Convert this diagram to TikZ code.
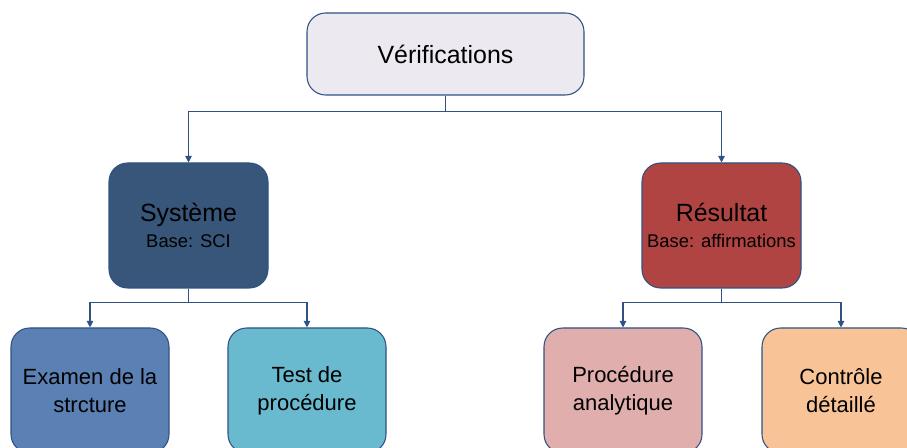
\documentclass[tikz,border=0pt]{standalone}
\usepackage{fontspec}
\setmainfont{Liberation Sans}
\usetikzlibrary{arrows.meta,positioning}
\definecolor{ink}{HTML}{2F5283}
\definecolor{topfill}{HTML}{ECE9F1}
\definecolor{sysfill}{HTML}{375679}
\definecolor{resfill}{HTML}{B04442}
\definecolor{examfill}{HTML}{5B81B4}
\definecolor{testfill}{HTML}{6ABACF}
\definecolor{procfill}{HTML}{E1AEAE}
\definecolor{ctrlfill}{HTML}{F9C398}
\tikzset{
  box/.style={draw=ink, line width=0.8pt, rounded corners=14pt, align=center, inner sep=2pt, text=black},
  topbox/.style={box, fill=topfill, minimum width=207.75pt, minimum height=61.5pt, font=\fontsize{18.7}{22}\selectfont},
  midbox/.style={box, minimum width=119.25pt, minimum height=93.75pt, font=\fontsize{18.7}{22}\selectfont},
  lowbox/.style={box, minimum width=118.5pt, minimum height=93.75pt, font=\fontsize{16.5}{21}\selectfont},
  arrow/.style={-{Triangle[length=5pt,width=5pt]}, line width=0.8pt, draw=ink}
}
\newcommand{\basefont}{\fontsize{13.8}{16}\selectfont}
\begin{document}
\begin{tikzpicture}[x=0.75pt,y=-0.75pt]
\useasboundingbox (0,0) rectangle (907,448);
\node[topbox] (verif) at (445.5,54) {Vérifications};
\node[midbox, fill=sysfill] (sys) at (188.5,225.5) {Système\\[-2pt]{\basefont Base: SCI}};
\node[midbox, fill=resfill] (res) at (721.5,225.5) {Résultat\\[-2pt]{\basefont Base: affirmations}};
\node[lowbox, fill=examfill] (exam) at (90,390.5) {Examen de la\\strcture};
\node[lowbox, fill=testfill] (test) at (307,390.5) {Test de\\procédure};
\node[lowbox, fill=procfill] (proc) at (623,390.5) {Procédure\\analytique};
\node[lowbox, fill=ctrlfill] (ctrl) at (841,390.5) {Contrôle\\détaillé};
\draw[arrow] (verif.south) -- ++(0,16) -| (sys.north);
\draw[arrow] (verif.south) -- ++(0,16) -| (res.north);
\draw[arrow] (sys.south) -- ++(0,14) -| (exam.north);
\draw[arrow] (sys.south) -- ++(0,14) -| (test.north);
\draw[arrow] (res.south) -- ++(0,14) -| (proc.north);
\draw[arrow] (res.south) -- ++(0,14) -| (ctrl.north);
\end{tikzpicture}
\end{document}
